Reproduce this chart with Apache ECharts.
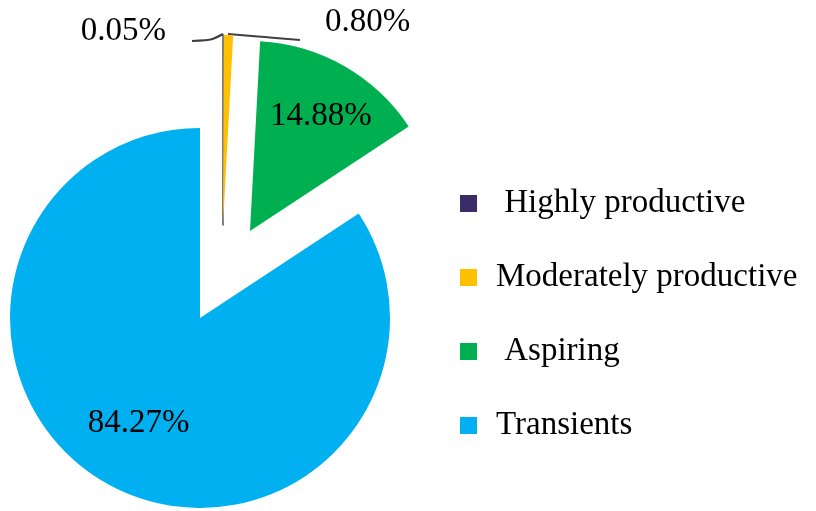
<!DOCTYPE html>
<html>
<head>
<meta charset="utf-8">
<script src="https://cdn.jsdelivr.net/npm/echarts@6/dist/echarts.min.js"></script>
<style>html,body{margin:0;padding:0;background:#fff}#c{width:816px;height:511px}</style>
</head>
<body>
<div id="c"></div>
<script>
const categories = ['Highly productive', 'Moderately productive', 'Aspiring', 'Transients'];
const values = [0.05, 0.80, 14.88, 84.27];
const colors = ['#3b2b66', '#ffc000', '#00b050', '#00b0f0'];

const FONT = 'Liberation Serif';
const chart = echarts.init(document.getElementById('c'));

function buildData(visibleIdx) {
  return categories.map((name, i) => {
    const vis = visibleIdx.indexOf(i) >= 0;
    return {
      name: name,
      value: values[i],
      itemStyle: vis ? {color: colors[i], borderColor: i === 0 ? '#4a4f7a' : 'transparent', borderWidth: i === 0 ? 1.5 : 0}
                     : {color: 'rgba(0,0,0,0)', borderWidth: 0},
      label: {show: vis},
      labelLine: {show: vis}
    };
  });
}

const common = {
  type: 'pie',
  radius: 190,
  startAngle: 90,
  clockwise: true,
  avoidLabelOverlap: false,
  silent: true,
  animation: false,
  emphasis: {disabled: true},
  label: {
    fontFamily: FONT, fontSize: 33, color: '#000',
    formatter: p => p.value.toFixed(2) + '%'
  }
};

const option = {
  backgroundColor: '#fff',
  animation: false,
  legend: {
    orient: 'vertical',
    left: 455,
    top: 182,
    itemWidth: 17,
    itemHeight: 17,
    itemGap: 41,
    icon: 'rect',
    selectedMode: false,
    textStyle: {fontFamily: FONT, fontSize: 33, color: '#000', padding: [0, 0, 0, 14]},
    formatter: n => (n === categories[0] || n === categories[2]) ? ' ' + n : n,
    data: categories.map((n, i) => ({name: n, itemStyle: {color: colors[i], opacity: 1, borderWidth: 0}}))
  },
  series: [
    Object.assign({}, common, {
      name: 'main',
      center: [200, 318],
      label: Object.assign({}, common.label, {position: 'inside'}),
      labelLayout: p => ({dx: -15, dy: 19}),
      data: buildData([3])
    }),
    Object.assign({}, common, {
      name: 'aspiring',
      center: [250, 231],
      label: Object.assign({}, common.label, {position: 'inside'}),
      labelLayout: p => ({dx: 22, dy: -30}),
      data: buildData([2])
    }),
    Object.assign({}, common, {
      name: 'small',
      center: [223, 225],
      label: Object.assign({}, common.label, {position: 'outside'}),
      labelLine: {show: true, smooth: 0.3, lineStyle: {color: '#404040', width: 2}},
      labelLayout: p => {
        if (p.dataIndex === 0) {
          return {x: 166, y: 31, align: 'right', verticalAlign: 'middle',
                  labelLinePoints: [[223, 34], [212, 40], [192, 41]]};
        }
        return {x: 325, y: 22, align: 'left', verticalAlign: 'middle',
                labelLinePoints: [[228, 34], [265, 37], [300, 40]]};
      },
      data: buildData([0, 1])
    })
  ]
};
chart.setOption(option);
</script>
</body>
</html>
